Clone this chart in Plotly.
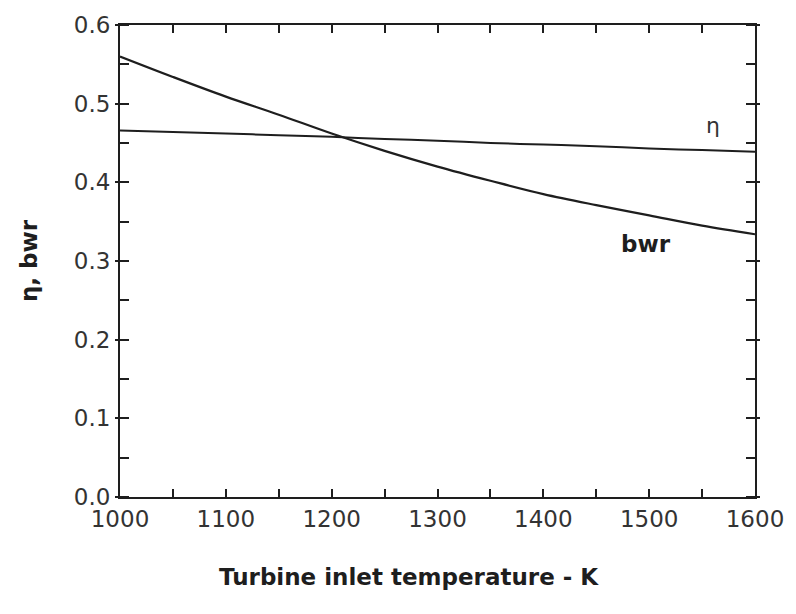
import plotly.graph_objects as go

temps = [1000, 1050, 1100, 1150, 1200, 1250, 1300, 1350, 1400, 1450, 1500, 1550, 1600]
bwr = [0.560, 0.534, 0.509, 0.486, 0.462, 0.440, 0.420, 0.402, 0.385, 0.371, 0.358, 0.345, 0.334]
eta = [0.466, 0.464, 0.462, 0.460, 0.458, 0.455, 0.453, 0.450, 0.448, 0.446, 0.443, 0.441, 0.439]

x_ticks = [1000, 1100, 1200, 1300, 1400, 1500, 1600]
y_ticks = [0.0, 0.1, 0.2, 0.3, 0.4, 0.5, 0.6]

ink = "#1e1e1e"
font = "DejaVu Sans, Verdana, sans-serif"

fig = go.Figure()
fig.add_trace(go.Scatter(x=temps, y=eta, mode="lines", line=dict(color=ink, width=2),
                         line_shape="spline", name="η", showlegend=False))
fig.add_trace(go.Scatter(x=temps, y=bwr, mode="lines", line=dict(color=ink, width=2.2),
                         line_shape="spline", name="bwr", showlegend=False))

fig.add_annotation(x=1560, y=0.472, text="η", showarrow=False,
                   font=dict(family=font, size=22, color="#333"))
fig.add_annotation(x=1497, y=0.322, text="<b>bwr</b>", showarrow=False,
                   font=dict(family=font, size=23, color=ink))
fig.add_annotation(xref="paper", yref="paper", x=0.455, y=-0.17, yanchor="middle",
                   text="<b>Turbine inlet temperature - K</b>", showarrow=False,
                   font=dict(family=font, size=23, color=ink))

fig.update_xaxes(range=[1000, 1600], tickvals=x_ticks, ticktext=[str(v) for v in x_ticks],
                 showline=True, linecolor=ink, linewidth=2, mirror="ticks",
                 ticks="inside", ticklen=3, tickcolor=ink, tickwidth=1.5,
                 minor=dict(ticks="inside", ticklen=8, dtick=50, tickcolor=ink, tickwidth=1.5),
                 showgrid=False, zeroline=False,
                 tickfont=dict(family=font, size=23, color="#333"))
fig.update_yaxes(range=[0, 0.6], tickvals=y_ticks, ticktext=["%.1f" % v for v in y_ticks],
                 showline=True, linecolor=ink, linewidth=2, mirror="ticks",
                 ticks="outside", ticklen=3, tickcolor=ink, tickwidth=1.5,
                 minor=dict(ticks="inside", ticklen=9, dtick=0.05, tickcolor=ink, tickwidth=1.5),
                 showgrid=False, zeroline=False,
                 tickfont=dict(family=font, size=23, color="#333"),
                 title=dict(text="<b>η, bwr</b>", standoff=30,
                            font=dict(family=font, size=23, color=ink)))

fig.update_layout(width=796, height=614, margin=dict(l=120, r=36, t=20, b=117),
                  paper_bgcolor="white", plot_bgcolor="white")

fig.write_html("out.html")
